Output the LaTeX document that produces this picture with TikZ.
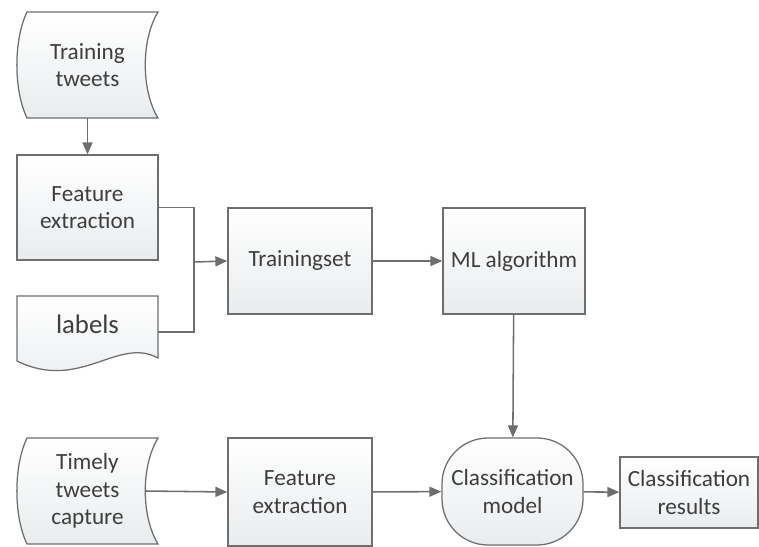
\documentclass[tikz,border=0pt]{standalone}
\usepackage{fontspec}
\setmainfont{Carlito}
\usetikzlibrary{arrows.meta}
\definecolor{linegray}{HTML}{6E6E6E}
\definecolor{boxgray}{HTML}{E9ECEE}
\definecolor{textgray}{HTML}{3E3E3E}

\begin{document}
\begin{tikzpicture}[x=0.25mm, y=-0.25mm,
	every node/.style={font=\fontsize{16.5}{19.5}\selectfont, text=textgray, align=center, inner sep=0pt},
	shapefill/.style={draw=linegray, line width=0.9pt, top color=white, bottom color=boxgray},
	box/.style={shapefill, minimum width=35.5mm, minimum height=26.5mm},
	link/.style={draw=linegray, line width=1.1pt},
	flow/.style={link, -{Triangle[length=3mm, width=2.5mm]}}]
	\useasboundingbox (0,0) rectangle (759,546);
	\shade[shapefill] (27,12) -- (158,12) .. controls (141,40) and (141,90) .. (158,118) -- (27,118) .. controls (13.5,90) and (13.5,40) .. (27,12) -- cycle;
	\node[minimum width=35.25mm, minimum height=26.5mm] (train) at (87.5,65) {Training\\tweets};
	\node[box, minimum width=35.25mm, minimum height=26.25mm] (fe1) at (87.5,207.5) {Feature\\extraction};
	\shade[shapefill] (17,296) -- (158,296) -- (158,358) .. controls (118,336) and (80,392) .. (17,361) -- cycle;
	\node[minimum width=35.25mm, minimum height=14mm, font=\fontsize{19}{22}\selectfont] (labels) at (87.5,324) {labels};
	\node[box, minimum width=36mm] (ts) at (300,261) {Trainingset};
	\node[box] (ml) at (514,261) {ML algorithm};
	\shade[shapefill] (27,438) -- (158,438) .. controls (141,466) and (141,516) .. (158,544) -- (27,544) .. controls (13.5,516) and (13.5,466) .. (27,438) -- cycle;
	\node[minimum width=35.25mm, minimum height=26.5mm] (timely) at (87.5,491) {Timely\\tweets\\capture};
	\node[box, minimum width=36mm, minimum height=27mm] (fe2) at (300,492) {Feature\\extraction};
	\node[box, minimum width=35.25mm, minimum height=26.75mm, rounded corners=11.5mm] (model) at (512.5,491.5) {Classification\\model};
	\node[box, minimum width=34.5mm, minimum height=17.75mm] (res) at (689,492.5) {Classification\\results};
	\coordinate (join) at (194,262);
	\draw[flow] (train.south) -- (fe1.north);
	\draw[link] (fe1.east) -| (join) |- ([yshift=-2mm]labels.east);
	\draw[flow] (join) -- (ts.west);
	\draw[flow] (ts) -- (ml);
	\draw[flow] (ml) -- (model);
	\draw[flow] ([xshift=-3.2mm]timely.east) -- (fe2.west);
	\draw[flow] (fe2) -- (model);
	\draw[flow] (model) -- (res);
\end{tikzpicture}
\end{document}
